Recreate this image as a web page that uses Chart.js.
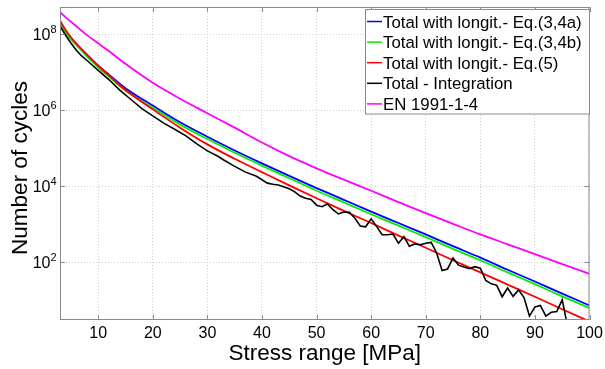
<!DOCTYPE html>
<html>
<head>
<meta charset="utf-8">
<script src="https://cdn.jsdelivr.net/npm/chart.js@4.4.0/dist/chart.umd.min.js"></script>
<style>
  body { margin: 0; background: #fff; }
  canvas { display: block; }
</style>
</head>
<body>
<canvas id="fatigueChart" width="605" height="369"></canvas>
<script>
// Stress range values (MPa) used for the smooth curves
const stress = [3, 4, 5, 6, 8, 10, 12, 15, 20, 25, 30, 35, 40, 45, 50, 55, 60, 65, 70, 75, 80, 85, 90, 95, 100];

// Number of cycles
const eq34a = [2.0e8, 1.20e8, 7.94e7, 5.50e7, 2.82e7, 1.48e7, 8.51e6, 3.80e6, 1.32e6, 4.79e5, 2.0e5, 8.71e4, 3.98e4, 1.86e4, 8.91e3, 4.37e3, 2.14e3, 1.07e3, 537, 263, 132, 63.1, 30.9, 14.8, 7.24];
const eq34b = [1.91e8, 1.15e8, 7.41e7, 5.13e7, 2.57e7, 1.35e7, 7.59e6, 3.31e6, 1.15e6, 4.17e5, 1.74e5, 7.59e4, 3.47e4, 1.62e4, 7.59e3, 3.72e3, 1.82e3, 912, 457, 224, 112, 53.7, 26.3, 12.6, 6.17];
const eq5 = [2.29e8, 1.32e8, 8.32e7, 5.62e7, 2.82e7, 1.48e7, 8.13e6, 3.39e6, 1.05e6, 3.47e5, 1.26e5, 5.25e4, 2.34e4, 1.05e4, 4.79e3, 2.24e3, 1.07e3, 501, 240, 112, 53.7, 25.7, 12.3, 5.75, 2.75];
const en1991 = [3.89e8, 2.82e8, 2.14e8, 1.62e8, 9.33e7, 5.75e7, 3.55e7, 1.66e7, 5.25e6, 2.0e6, 8.32e5, 3.47e5, 1.41e5, 6.17e4, 2.95e4, 1.48e4, 7.59e3, 3.80e3, 1.95e3, 1.02e3, 537, 295, 162, 89.1, 49.0];

// Integration result has its own stress points
const integStress = [3, 4, 5, 6, 7, 8, 10, 12, 14, 16, 18, 20, 22, 24, 26, 28, 30, 32, 33, 35, 37, 39, 41, 42, 43, 45, 46, 47, 48, 49, 50,
  51, 52, 53, 54, 55, 56, 57, 58, 59, 60, 61, 62, 63, 64, 65, 66, 67, 68, 69, 70, 71, 72, 73, 74, 75, 76, 77, 78, 79, 80,
  81, 82, 83, 84, 85, 86, 87, 88, 89, 90, 91, 92, 93, 94, 95, 96];
const integration = [1.66e8, 9.55e7, 5.89e7, 3.80e7, 2.63e7, 2.00e7, 1.12e7, 6.31e6, 3.31e6, 1.91e6, 1.10e6, 7.08e5, 4.57e5, 3.16e5, 2.14e5, 1.32e5, 8.51e4, 6.03e4, 4.90e4, 3.31e4, 2.34e4, 1.82e4, 1.20e4, 1.12e4, 1.07e4, 8.51e3, 7.08e3, 5.50e3, 4.79e3, 4.47e3, 3.16e3,
  2.88e3, 3.39e3, 2.40e3, 1.86e3, 2.09e3, 2.04e3, 1.45e3, 891, 851, 1.38e3, 871, 525, 525, 550, 316, 468, 263, 302, 288, 316, 331, 174, 60.3, 66.1, 129, 83.2, 74.1, 67.6, 75.9, 69.2,
  33.1, 26.9, 24.5, 12.3, 20.9, 12.6, 18.6, 11.7, 3.80, 6.61, 7.24, 3.80, 4.79, 5.01, 10.2, 2.0];

const xTicks = [10, 20, 30, 40, 50, 60, 70, 80, 90, 100];
const yTicks = [1e2, 1e4, 1e6, 1e8];
const yTickExp = ["2", "4", "6", "8"];

const seriesNames = ["Total with longit.- Eq.(3,4a)", "Total with longit.- Eq.(3,4b)", "Total with longit.- Eq.(5)", "Total - Integration", "EN 1991-1-4"];
const seriesColors = ["#0000ff", "#00ee00", "#ff0000", "#000000", "#ff00ff"];

const FONT = "'Liberation Sans', Arial, sans-serif";
const AXIS_GRAY = "#8a8a8a";

function toPoints(xs, ys) {
    return xs.map((x, i) => ({x: x, y: ys[i]}));
}

// draws frame, tick labels, axis titles and the legend box
const decorPlugin = {
    id: "decor",
    afterDraw(chart) {
        const ctx = chart.ctx;
        const a = chart.chartArea;
        const xs = chart.scales.x, ys = chart.scales.y;
        ctx.save();

        // frame + inner tick marks
        ctx.strokeStyle = AXIS_GRAY;
        ctx.lineWidth = 1;
        ctx.strokeRect(a.left + 0.5, a.top + 0.5, a.right - a.left - 1, a.bottom - a.top - 1);
        ctx.beginPath();
        xTicks.forEach(v => {
            const px = Math.round(xs.getPixelForValue(v)) + 0.5;
            ctx.moveTo(px, a.bottom); ctx.lineTo(px, a.bottom - 5);
            ctx.moveTo(px, a.top); ctx.lineTo(px, a.top + 5);
        });
        yTicks.forEach(v => {
            const py = Math.round(ys.getPixelForValue(v)) + 0.5;
            ctx.moveTo(a.left, py); ctx.lineTo(a.left + 5, py);
            ctx.moveTo(a.right, py); ctx.lineTo(a.right - 5, py);
        });
        ctx.stroke();

        // x tick labels
        ctx.fillStyle = "#000";
        ctx.font = "16px " + FONT;
        ctx.textAlign = "center";
        ctx.textBaseline = "alphabetic";
        xTicks.forEach(v => {
            ctx.fillText(String(v), xs.getPixelForValue(v), 337.5);
        });

        // y tick labels 10^n
        yTicks.forEach((v, i) => {
            const py = ys.getPixelForValue(v);
            ctx.font = "16px " + FONT;
            ctx.textAlign = "right";
            ctx.fillText("10", 50.5, py + 6);
            ctx.font = "11px " + FONT;
            ctx.textAlign = "left";
            ctx.fillText(yTickExp[i], 50.5, py - 1);
        });

        // axis titles
        ctx.font = "22.5px " + FONT;
        ctx.textAlign = "center";
        ctx.fillText("Stress range [MPa]", (a.left + a.right) / 2, 360);
        ctx.save();
        ctx.translate(26.5, 168);
        ctx.rotate(-Math.PI / 2);
        ctx.fillText("Number of cycles", 0, 0);
        ctx.restore();

        // legend
        const lx = 365.5, ly = 9.5, lw = 224, lh = 104.5;
        ctx.fillStyle = "#fff";
        ctx.fillRect(lx, ly, lw, lh);
        ctx.strokeStyle = AXIS_GRAY;
        ctx.strokeRect(lx, ly, lw, lh);
        ctx.font = "16.8px " + FONT;
        ctx.textAlign = "left";
        seriesNames.forEach((name, i) => {
            const cy = 21.5 + i * 20.6;
            ctx.strokeStyle = seriesColors[i];
            ctx.lineWidth = 1.5;
            ctx.beginPath();
            ctx.moveTo(367, cy); ctx.lineTo(382, cy);
            ctx.stroke();
            ctx.fillStyle = "#000";
            ctx.fillText(name, 383, cy + 6);
        });
        ctx.restore();
    }
};

const smooth = {pointRadius: 0, borderWidth: 1.8, fill: false, cubicInterpolationMode: "monotone"};

new Chart(document.getElementById("fatigueChart").getContext("2d"), {
    type: "line",
    data: {
        datasets: [
            {label: seriesNames[0], data: toPoints(stress, eq34a), borderColor: seriesColors[0], order: 5, ...smooth},
            {label: seriesNames[1], data: toPoints(stress, eq34b), borderColor: seriesColors[1], order: 4, ...smooth},
            {label: seriesNames[2], data: toPoints(stress, eq5), borderColor: seriesColors[2], order: 3, ...smooth},
            {label: seriesNames[3], data: toPoints(integStress, integration), borderColor: seriesColors[3], order: 2,
             pointRadius: 0, borderWidth: 1.6, fill: false, tension: 0},
            {label: seriesNames[4], data: toPoints(stress, en1991), borderColor: seriesColors[4], order: 1, ...smooth}
        ]
    },
    options: {
        responsive: false,
        animation: false,
        events: [],
        layout: {padding: {top: 7, right: 15.5, left: 0, bottom: 0}},
        scales: {
            x: {
                type: "linear", min: 3, max: 100,
                afterBuildTicks: s => { s.ticks = xTicks.map(v => ({value: v})); },
                afterFit: s => { s.height = 49; },
                grid: {color: "#cfcfcf", lineWidth: 1, drawTicks: false},
                border: {display: false, dash: [1, 2]},
                ticks: {display: false}
            },
            y: {
                type: "logarithmic", min: 3, max: 5.2e8,
                afterBuildTicks: s => { s.ticks = yTicks.map(v => ({value: v})); },
                afterFit: s => { s.width = 60; },
                grid: {color: "#cfcfcf", lineWidth: 1, drawTicks: false},
                border: {display: false, dash: [1, 2]},
                ticks: {display: false}
            }
        },
        plugins: {legend: {display: false}, tooltip: {enabled: false}}
    },
    plugins: [decorPlugin]
});
</script>
</body>
</html>
